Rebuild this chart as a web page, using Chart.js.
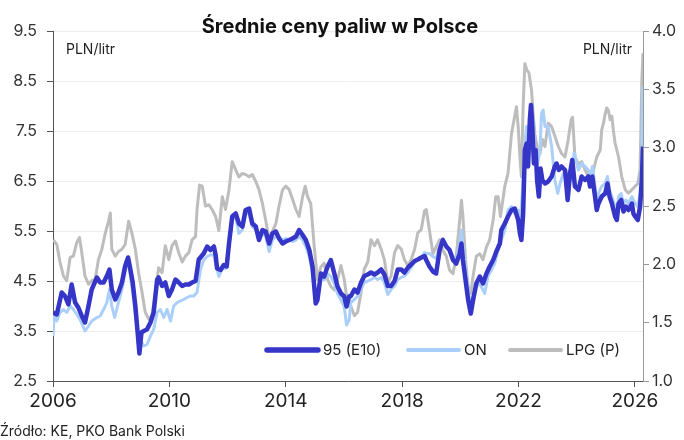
<!DOCTYPE html>
<html lang="pl">
<head>
<meta charset="utf-8">
<title>Średnie ceny paliw w Polsce</title>
<script src="https://cdn.jsdelivr.net/npm/chart.js@4.4.1/dist/chart.umd.min.js"></script>
<style>
  html, body { margin: 0; padding: 0; background: #fff; }
  #wrap { width: 684px; height: 440px; }
</style>
</head>
<body>
<div id="wrap"><canvas id="paliwa" width="684" height="440"></canvas></div>
<script>
// dane (tygodniowe ceny, próbkowane)
const xTicks = [2006, 2010, 2014, 2018, 2022, 2026];
const leftTicks = [2.5, 3.5, 4.5, 5.5, 6.5, 7.5, 8.5, 9.5];
const rightTicks = [1.0, 1.5, 2.0, 2.5, 3.0, 3.5, 4.0];
const xMin = 2006;
const xMax = 2026.28;

const labels = ['95 (E10)', 'ON', 'LPG (P)'];

const e95Dates = [2006.01,2006.13,2006.30,2006.41,2006.53,2006.64,2006.76,2006.87,2006.99,2007.10,2007.22,2007.33,2007.51,2007.62,2007.74,2007.85,2007.94,2008.02,2008.14,2008.25,2008.37,2008.48,
  2008.58,2008.66,2008.74,2008.83,2008.92,2008.97,2009.04,2009.12,2009.23,2009.35,2009.46,2009.58,2009.63,2009.75,2009.86,2009.98,2010.09,2010.21,2010.32,2010.44,2010.55,2010.67,2010.78,2010.90,2011.01,
  2011.18,2011.30,2011.41,2011.53,2011.59,2011.64,2011.76,2011.87,2011.97,2012.05,2012.16,2012.28,2012.39,2012.51,2012.62,2012.74,2012.85,2012.97,2013.08,2013.20,2013.31,2013.43,2013.54,2013.66,
  2013.77,2013.89,2014.00,2014.12,2014.23,2014.35,2014.46,2014.58,2014.69,2014.81,2014.92,2015.03,2015.09,2015.21,2015.32,2015.44,2015.55,2015.67,2015.78,2015.90,2016.01,2016.09,2016.18,
  2016.24,2016.36,2016.47,2016.59,2016.70,2016.82,2016.93,2017.05,2017.16,2017.28,2017.39,2017.51,2017.62,2017.74,2017.85,2017.97,2018.08,2018.20,2018.31,2018.43,2018.54,2018.66,2018.77,
  2018.83,2018.94,2019.06,2019.17,2019.29,2019.40,2019.52,2019.63,2019.75,2019.86,2019.98,2020.04,2020.09,2020.18,2020.27,2020.36,2020.44,2020.55,2020.67,2020.78,2020.90,2021.01,2021.13,2021.24,2021.36,
  2021.41,2021.53,2021.64,2021.76,2021.87,2021.99,2022.05,2022.10,2022.16,2022.22,2022.28,2022.33,2022.39,2022.43,2022.47,2022.53,2022.59,2022.64,2022.70,2022.76,2022.82,2022.91,2023.02,2023.14,2023.25,2023.31,2023.39,2023.48,2023.60,2023.69,2023.77,2023.85,
  2023.94,2024.06,2024.17,2024.29,2024.40,2024.46,2024.54,2024.63,2024.69,2024.75,2024.86,2024.98,2025.06,2025.13,2025.21,2025.32,2025.38,2025.44,2025.53,2025.61,2025.69,2025.78,2025.90,2025.95,2026.01,2026.10,2026.18,2026.24,2026.28];
const e95Values = [3.87,3.83,4.27,4.2,4.03,4.43,4.07,3.97,3.8,3.67,4.0,4.33,4.57,4.47,4.47,4.6,4.73,4.33,4.13,4.27,4.47,4.8,
  4.97,4.73,4.47,4.0,3.4,3.05,3.47,3.5,3.53,3.67,3.87,4.53,4.57,4.4,4.47,4.2,4.33,4.53,4.47,4.4,4.43,4.43,4.47,4.5,4.93,
  5.05,5.19,5.12,5.19,5.02,4.75,4.72,4.82,4.79,5.25,5.79,5.85,5.65,5.59,5.92,5.95,5.65,5.59,5.32,5.52,5.49,5.25,5.45,5.49,
  5.35,5.25,5.29,5.32,5.35,5.39,5.52,5.42,5.32,5.12,4.79,4.05,4.12,4.65,4.59,4.79,4.92,4.65,4.39,4.25,4.19,3.99,4.19,
  4.2,4.33,4.27,4.47,4.6,4.63,4.67,4.63,4.67,4.73,4.63,4.4,4.4,4.5,4.73,4.73,4.67,4.77,4.83,4.9,4.93,4.97,5.0,
  4.92,4.79,4.69,4.65,5.12,5.32,5.19,5.12,4.92,4.85,5.05,5.25,4.92,4.52,4.12,3.85,4.12,4.45,4.59,4.45,4.65,4.79,4.92,5.09,5.25,
  5.52,5.65,5.79,5.92,5.95,5.72,5.45,5.32,5.85,7.12,7.25,6.79,7.72,8.02,7.65,6.85,7.12,6.52,6.19,6.75,6.52,6.45,6.49,6.59,6.79,6.85,6.72,6.79,6.72,6.12,6.65,6.92,
  6.39,6.32,6.59,6.52,6.59,6.39,6.59,6.19,5.92,6.05,6.19,6.25,6.45,6.19,6.05,5.79,5.72,6.05,6.12,5.89,5.99,5.92,6.05,5.85,5.79,5.72,5.99,6.52,7.19];

const onDates = [2006.00,2006.04,2006.13,2006.24,2006.36,2006.47,2006.59,2006.70,2006.82,2006.93,2007.10,2007.22,2007.33,2007.51,2007.62,2007.74,2007.85,2007.94,2008.02,2008.12,2008.25,2008.37,2008.48,
  2008.58,2008.66,2008.77,2008.89,2009.00,2009.12,2009.23,2009.35,2009.46,2009.58,2009.69,2009.81,2009.92,2010.04,2010.15,2010.27,2010.38,2010.49,2010.61,2010.72,2010.84,2010.95,2011.07,
  2011.18,2011.30,2011.41,2011.53,2011.59,2011.70,2011.82,2011.93,2012.05,2012.16,2012.28,2012.39,2012.51,2012.62,2012.74,2012.85,2012.97,2013.08,2013.20,2013.31,2013.43,2013.54,2013.66,
  2013.77,2013.89,2014.00,2014.12,2014.23,2014.35,2014.46,2014.58,2014.69,2014.81,2014.92,2015.01,2015.09,2015.21,2015.32,2015.44,2015.55,2015.67,2015.78,2015.90,2016.01,2016.09,2016.18,
  2016.24,2016.36,2016.47,2016.59,2016.70,2016.82,2016.93,2017.05,2017.16,2017.28,2017.39,2017.51,2017.62,2017.74,2017.85,2017.97,2018.08,2018.20,2018.31,2018.43,2018.54,2018.66,2018.77,
  2018.83,2018.94,2019.06,2019.17,2019.29,2019.40,2019.52,2019.63,2019.75,2019.86,2019.98,2020.04,2020.12,2020.21,2020.30,2020.38,2020.50,2020.61,2020.72,2020.84,2020.95,2021.07,2021.18,2021.30,
  2021.41,2021.53,2021.64,2021.76,2021.87,2021.99,2022.05,2022.13,2022.20,2022.28,2022.33,2022.43,2022.51,2022.56,2022.66,2022.74,2022.79,2022.85,2022.91,2023.02,2023.14,2023.25,2023.35,2023.43,2023.54,2023.62,2023.71,2023.83,2023.91,
  2023.94,2024.06,2024.17,2024.29,2024.40,2024.46,2024.54,2024.63,2024.69,2024.75,2024.86,2024.98,2025.06,2025.13,2025.21,2025.32,2025.38,2025.44,2025.53,2025.61,2025.69,2025.78,2025.90,2026.01,2026.10,2026.18,2026.24,2026.28];
const onValues = [3.4,3.8,3.7,3.87,3.93,3.87,4.0,3.93,3.83,3.73,3.5,3.6,3.7,3.77,3.8,3.93,4.07,4.33,4.0,3.77,4.07,4.33,4.67,
  4.93,4.6,4.13,3.53,3.33,3.2,3.23,3.4,3.53,3.87,3.93,3.77,3.93,3.7,4.0,4.07,4.1,4.13,4.17,4.2,4.2,4.27,4.73,
  4.92,4.99,5.02,5.02,4.85,4.59,4.75,4.75,5.19,5.72,5.79,5.45,5.52,5.85,5.85,5.59,5.52,5.39,5.45,5.39,5.09,5.32,5.39,
  5.39,5.32,5.35,5.32,5.29,5.32,5.39,5.32,5.19,4.99,4.65,4.19,4.19,4.59,4.52,4.65,4.59,4.45,4.25,4.12,3.99,3.62,3.72,
  4.07,4.13,4.2,4.33,4.47,4.5,4.53,4.57,4.53,4.57,4.47,4.23,4.33,4.4,4.53,4.57,4.6,4.67,4.77,4.87,4.93,4.97,5.07,
  5.05,5.05,4.99,4.95,5.19,5.35,5.19,5.12,4.99,4.92,5.25,5.52,5.05,4.59,4.19,4.09,4.32,4.45,4.39,4.25,4.59,4.72,4.85,5.12,
  5.32,5.52,5.92,5.99,5.85,5.92,5.59,6.25,7.12,7.59,7.19,7.85,7.72,6.92,6.85,7.12,7.85,7.92,7.59,7.59,7.19,6.52,6.25,6.45,6.65,6.72,6.39,6.59,7.05,
  6.99,6.72,6.85,6.79,6.72,6.52,6.79,6.39,6.12,6.25,6.39,6.45,6.59,6.32,6.19,5.99,5.79,6.19,6.25,6.05,6.12,6.05,6.19,6.05,5.99,6.25,6.99,8.4];

const lpgDates = [2006.01,2006.13,2006.24,2006.36,2006.47,2006.59,2006.70,2006.82,2006.91,2006.99,2007.10,2007.22,2007.33,2007.45,2007.56,2007.68,2007.79,2007.91,2007.97,2008.02,2008.14,2008.25,2008.37,2008.48,
  2008.60,2008.71,2008.83,2008.94,2009.06,2009.17,2009.29,2009.40,2009.52,2009.63,2009.75,2009.86,2009.98,2010.09,2010.21,2010.32,2010.44,2010.55,2010.67,2010.78,2010.90,2010.95,2011.04,
  2011.13,2011.24,2011.36,2011.47,2011.59,2011.70,2011.82,2011.93,2012.05,2012.16,2012.28,2012.39,2012.51,2012.62,2012.74,2012.85,2012.97,2013.08,2013.20,2013.31,2013.43,2013.54,2013.66,
  2013.77,2013.89,2014.00,2014.12,2014.23,2014.35,2014.46,2014.58,2014.67,2014.75,2014.86,2014.98,2015.09,2015.21,2015.32,2015.44,2015.55,2015.67,2015.78,2015.90,2016.01,2016.13,2016.18,
  2016.24,2016.36,2016.47,2016.59,2016.70,2016.82,2016.93,2017.05,2017.16,2017.28,2017.39,2017.51,2017.62,2017.74,2017.85,2017.97,2018.08,2018.20,2018.31,2018.43,2018.54,2018.66,2018.77,
  2018.83,2018.94,2019.06,2019.17,2019.29,2019.40,2019.52,2019.63,2019.75,2019.86,2019.98,2020.04,2020.09,2020.18,2020.27,2020.36,2020.44,2020.55,2020.67,2020.78,2020.90,2021.01,2021.13,2021.22,2021.30,2021.38,
  2021.53,2021.64,2021.76,2021.87,2021.93,2021.99,2022.05,2022.10,2022.16,2022.22,2022.28,2022.36,2022.45,2022.51,2022.56,2022.66,2022.74,2022.82,2022.91,2023.02,2023.14,2023.25,2023.37,2023.48,2023.60,2023.71,2023.81,2023.86,
  2023.94,2024.06,2024.17,2024.29,2024.40,2024.52,2024.58,2024.63,2024.69,2024.81,2024.86,2024.92,2024.98,2025.03,2025.09,2025.15,2025.21,2025.26,2025.32,2025.44,2025.55,2025.67,2025.78,2025.90,2026.01,2026.10,2026.18,2026.24,2026.28];
const lpgValues = [2.21,2.17,2.02,1.90,1.86,2.06,2.07,2.19,2.23,2.10,1.90,1.83,1.86,1.87,2.04,2.13,2.26,2.37,2.44,2.13,2.07,2.11,2.13,2.17,
  2.37,2.27,2.13,1.93,1.76,1.59,1.53,1.56,1.76,1.97,1.93,2.16,2.04,2.16,2.20,2.10,2.02,2.07,2.10,2.21,2.24,2.47,2.68,
  2.67,2.50,2.51,2.47,2.41,2.29,2.58,2.47,2.64,2.88,2.81,2.75,2.78,2.77,2.75,2.77,2.71,2.64,2.52,2.38,2.21,2.28,2.35,
  2.50,2.64,2.67,2.64,2.56,2.47,2.41,2.58,2.67,2.58,2.52,2.15,1.87,1.98,2.01,1.87,1.81,1.78,1.87,1.99,1.87,1.66,1.64,
  1.64,1.56,1.59,1.76,1.96,2.02,2.21,2.16,2.21,2.13,2.04,1.84,1.90,2.10,2.16,2.13,2.04,1.99,2.04,2.13,2.27,2.30,2.46,
  2.47,2.29,2.09,2.15,2.21,2.12,2.07,1.95,1.92,2.07,2.38,2.55,2.41,2.04,1.81,1.75,1.90,2.07,2.09,2.04,2.15,2.21,2.38,2.58,2.58,2.41,
  2.67,2.78,3.12,3.27,3.35,3.18,2.92,2.75,3.35,3.72,3.67,3.64,3.49,3.27,3.12,2.98,2.95,3.07,3.01,3.21,3.18,3.10,3.01,2.95,2.92,3.07,3.24,3.26,
  2.92,2.86,2.88,2.81,2.75,2.69,2.81,2.86,2.92,2.98,3.15,3.21,3.29,3.34,3.32,3.24,3.27,3.15,3.04,2.92,2.75,2.64,2.61,2.64,2.67,2.69,2.81,3.58,3.81];

const kolory = ['#3535c8', '#abcffb', '#bdbdbd'];
const grubosci = [4.5, 3, 3];

function punkty(daty, wartosci) {
    return daty.map((d, i) => ({ x: d, y: wartosci[i] }));
}

const FONT = 'Inter, "Open Sans", sans-serif';
Chart.defaults.font.family = FONT;

// tytuł, jednostki, legenda w polu wykresu, źródło
const dopiski = {
    id: 'dopiski',
    afterDraw(chart) {
        const ctx = chart.ctx;
        ctx.save();
        ctx.fillStyle = '#111';
        ctx.textBaseline = 'middle';
        ctx.font = 'bold 20px ' + FONT;
        ctx.textAlign = 'center';
        ctx.fillText('Średnie ceny paliw w Polsce', 340, 27);

        ctx.font = '14px ' + FONT;
        ctx.fillStyle = '#222';
        ctx.textAlign = 'left';
        ctx.fillText('PLN/litr', 66, 50);
        ctx.textAlign = 'right';
        ctx.fillText('PLN/litr', 632, 50);

        // legenda
        const pozycje = [267, 408, 510];
        ctx.font = '15px ' + FONT;
        ctx.textAlign = 'left';
        chart.data.datasets.forEach((ds, i) => {
            const x0 = pozycje[i];
            ctx.strokeStyle = ds.borderColor;
            ctx.lineWidth = ds.borderWidth + 1;
            ctx.lineCap = 'round';
            ctx.beginPath();
            ctx.moveTo(x0, 350);
            ctx.lineTo(x0 + 51, 350);
            ctx.stroke();
            ctx.fillStyle = '#222';
            ctx.fillText(ds.label, x0 + 56, 350);
        });

        ctx.font = '14px ' + FONT;
        ctx.fillStyle = '#222';
        ctx.fillText('Źródło: KE, PKO Bank Polski', 0, 432);
        ctx.restore();
    }
};

function criarGrafico() {
    const canvas = document.getElementById('paliwa');
    const ctx = canvas.getContext('2d');

    new Chart(ctx, {
        type: 'line',
        data: {
            datasets: [
                {
                    label: labels[0],
                    data: punkty(e95Dates, e95Values),
                    borderColor: kolory[0],
                    borderWidth: grubosci[0],
                    yAxisID: 'y',
                },
                {
                    label: labels[1],
                    data: punkty(onDates, onValues),
                    borderColor: kolory[1],
                    borderWidth: grubosci[1],
                    yAxisID: 'y',
                },
                {
                    label: labels[2],
                    data: punkty(lpgDates, lpgValues),
                    borderColor: kolory[2],
                    borderWidth: grubosci[2],
                    yAxisID: 'y2',
                }
            ]
        },
        options: {
            responsive: false,
            animation: false,
            devicePixelRatio: 1,
            layout: { padding: { top: 31, bottom: 23, left: 0, right: 0 } },
            elements: {
                point: { radius: 0 },
                line: { tension: 0, borderJoinStyle: 'round', fill: false }
            },
            plugins: {
                legend: { display: false },
                tooltip: { enabled: false },
                title: { display: false }
            },
            scales: {
                x: {
                    type: 'linear',
                    min: xMin,
                    max: xMax,
                    afterBuildTicks: s => { s.ticks = xTicks.map(v => ({ value: v })); },
                    afterFit: s => { s.height = 36; },
                    ticks: {
                        autoSkip: false,
                        maxRotation: 0,
                        padding: 3,
                        color: '#222',
                        font: { size: 19 },
                        callback: v => String(v)
                    },
                    grid: { drawOnChartArea: false, drawTicks: true, tickLength: 6, tickColor: '#555' },
                    border: { color: '#555', width: 1 }
                },
                y: {
                    position: 'left',
                    min: leftTicks[0],
                    max: leftTicks[leftTicks.length - 1],
                    afterBuildTicks: s => { s.ticks = leftTicks.map(v => ({ value: v })); },
                    afterFit: s => { s.width = 53; },
                    ticks: {
                        padding: 10,
                        color: '#333',
                        font: { size: 16 },
                        callback: v => v.toFixed(1)
                    },
                    grid: { color: '#ededed', tickColor: '#555', tickLength: 6 },
                    border: { color: '#555', width: 1 }
                },
                y2: {
                    position: 'right',
                    min: rightTicks[0],
                    max: rightTicks[rightTicks.length - 1],
                    afterBuildTicks: s => { s.ticks = rightTicks.map(v => ({ value: v })); },
                    afterFit: s => { s.width = 41; },
                    ticks: {
                        padding: 3,
                        color: '#333',
                        font: { size: 16 },
                        callback: v => v.toFixed(1)
                    },
                    grid: { drawOnChartArea: false, tickColor: '#999', tickLength: 6 },
                    border: { color: '#999', width: 1 }
                }
            }
        },
        plugins: [dopiski]
    });
}

window.addEventListener('load', criarGrafico);
</script>
</body>
</html>
